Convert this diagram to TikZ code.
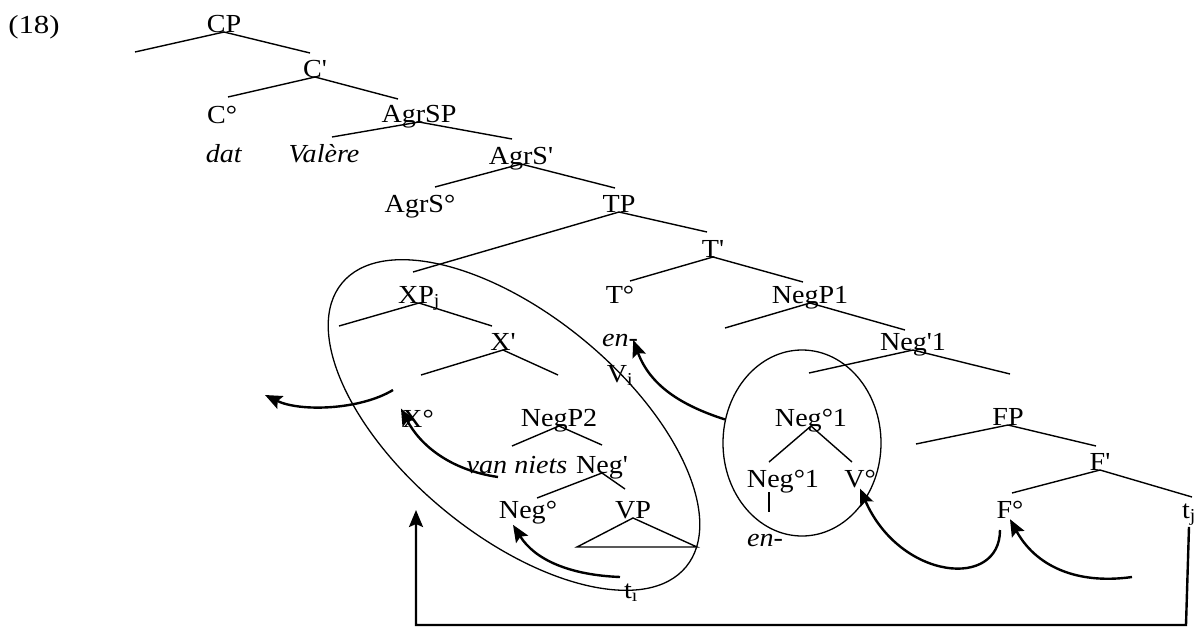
\documentclass[tikz,border=0pt]{standalone}
\usepackage{fontspec}
\setmainfont{Liberation Serif}
\usetikzlibrary{arrows.meta,shapes.geometric}
\newcommand{\prm}{\textquotesingle}
\begin{document}
\begin{tikzpicture}[x=1pt, y=-1pt,
  every node/.style={font=\fontsize{26}{30}\selectfont, inner sep=1pt, anchor=base},
  branch/.style={line width=1.4pt},
  move/.style={line width=2.4pt, -{Stealth[length=17pt,width=14pt,inset=3pt]}},
  ring/.style={draw, ellipse, line width=1.3pt, inner sep=0pt, anchor=center}]
  \useasboundingbox (0,0) rectangle (1195,627);

  \begin{scope}[every node/.append style={xscale=1.08}]
  % example number
  \node[xscale=1.1] (ex) at (34,33) {(18)};

  % labels
  \node (cp) at (224,32) {CP};
  \node (cbar) at (315,77) {C\prm};
  \node (c0) at (222,123) {C°};
  \node (agrsp) at (419,122) {AgrSP};
  \node (dat) at (224,162) {\textit{dat}};
  \node (valere) at (324,162) {\textit{Valère}};
  \node (agrsbar) at (521,164) {AgrS\prm};
  \node (agrs0) at (420,212) {AgrS°};
  \node (tp) at (619,212) {TP};
  \node (tbar) at (713,257) {T\prm};
  \node (t0) at (620,303) {T°};
  \node (negp1) at (810,303) {NegP1};
  \node (xp) at (419,303) {XP\textsubscript{j}};
  \node (xbar) at (503,350) {X\prm};
  \node (en1) at (620,346) {\textit{en-}};
  \node (vi) at (620,382) {V\textsubscript{i}};
  \node (negbar1) at (913,350) {Neg\prm 1};
  \node (neg01) at (811,426) {Neg°1};
  \node (fp) at (1008,425) {FP};
  \node (x0) at (418,427) {X°};
  \node (negp2) at (559,426) {NegP2};
  \node (vanniets) at (517,473) {\textit{van niets}};
  \node (negbar) at (602,473) {Neg\prm};
  \node (neg0) at (528,518) {Neg°};
  \node (vp) at (633,518) {VP};
  \node (neglow) at (783,487) {Neg°1};
  \node (v0) at (860,487) {V°};
  \node (en2) at (765,546) {\textit{en-}};
  \node (fbar) at (1100,470) {F\prm};
  \node (f0) at (1010,518) {F°};
  \node (tj) at (1189,518) {t\textsubscript{j}};
  \node (ti) at (631,598) {t\textsubscript{ı}};
  \end{scope}

  % branch ends
  \coordinate (cp-l) at (135,52);      \coordinate (cp-r) at (310,53);
  \coordinate (cbar-l) at (228,97);    \coordinate (cbar-r) at (398,99);
  \coordinate (agrsp-l) at (332,137);  \coordinate (agrsp-r) at (512,139);
  \coordinate (agrsbar-l) at (435,187);\coordinate (agrsbar-r) at (615,188);
  \coordinate (tp-l) at (413,272);     \coordinate (tp-r) at (707,232);
  \coordinate (tbar-l) at (630,281);   \coordinate (tbar-r) at (803,282);
  \coordinate (xp-l) at (339,326);     \coordinate (xp-r) at (492,326);
  \coordinate (xbar-l) at (421,375);   \coordinate (xbar-r) at (558,375);
  \coordinate (negp1-l) at (725,328);  \coordinate (negp1-r) at (905,330);
  \coordinate (negbar1-l) at (809,373);\coordinate (negbar1-r) at (1010,374);
  \coordinate (negp2-l) at (512,446);  \coordinate (negp2-r) at (602,445);
  \coordinate (negbar-l) at (537,498); \coordinate (negbar-r) at (625,489);
  \coordinate (neg01-l) at (769,462);  \coordinate (neg01-r) at (852,462);
  \coordinate (fp-l) at (916,444);     \coordinate (fp-r) at (1096,446);
  \coordinate (fbar-l) at (1012,493);  \coordinate (fbar-r) at (1192,497);

  % branches
  \foreach \n in {cp,cbar,agrsp,agrsbar,tp,tbar,xp,xbar,negp1,negbar1,negp2,negbar,neg01,fp,fbar}
    \draw[branch] (\n-l) -- (\n.base) -- (\n-r);

  % VP triangle
  \coordinate (vp-l) at (577,547);
  \coordinate (vp-r) at (697,547);
  \draw[branch] (vp.base) -- (vp-l) -- (vp-r) -- cycle;

  % bar under Neg°1
  \coordinate (bar-t) at (769,492);
  \coordinate (bar-b) at (769,512);
  \draw[branch] (bar-t) -- (bar-b);

  % rings
  \node[ring, rotate=-39.5, minimum width=446pt, minimum height=220pt] (xpring) at (514,425) {};
  \node[ring, minimum width=158pt, minimum height=186pt] (negring) at (802,443) {};

  % movements
  \coordinate (a1-s) at (393,390);
  \coordinate (a1-e) at (265,395);
  \draw[move] (a1-s) .. controls (360,410) and (300,412) .. (a1-e);
  \coordinate (a2-s) at (498,477);
  \draw[move] (a2-s) .. controls (450,470) and (420,445) .. (x0.north west);
  \coordinate (a3-s) at (620,577);
  \draw[move] (a3-s) .. controls (570,575) and (535,560) .. ([xshift=-15pt]neg0.south);
  \draw[move] (negring.163) .. controls (680,405) and (650,385) .. ([xshift=-6pt]en1.east);
  \coordinate (a5-s) at (1000,530);
  \draw[move] (a5-s) .. controls (1000,590) and (900,580) .. (v0.south);
  \coordinate (a6-s) at (1132,577);
  \draw[move] (a6-s) .. controls (1075,585) and (1035,565) .. (f0.south);

  % long movement
  \coordinate (low-r) at (1186,625);
  \coordinate (low-l) at (416,625);
  \coordinate (low-tip) at (416,510);
  \draw[move] (tj.south) -- (low-r) -- (low-l) -- (low-tip);
\end{tikzpicture}
\end{document}
